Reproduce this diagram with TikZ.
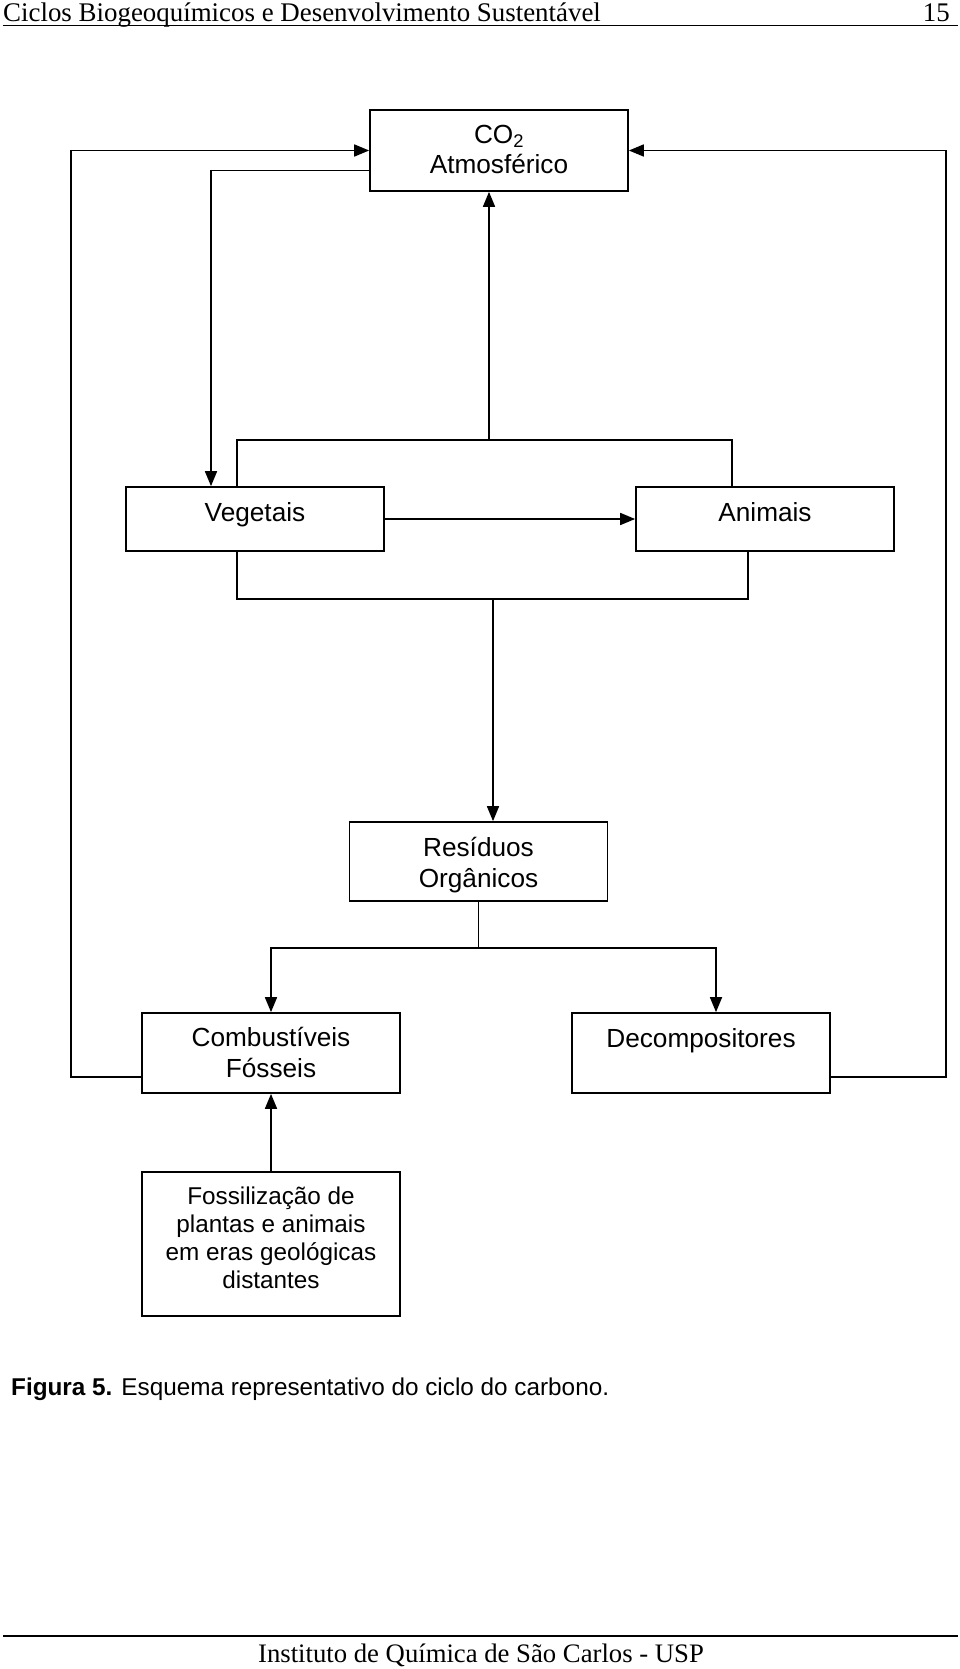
\documentclass[tikz,border=0pt]{standalone}
\usepackage{fontspec}
\setmainfont{Liberation Serif}
\newfontfamily\arialf{Liberation Sans}
\usetikzlibrary{arrows.meta,calc}
\begin{document}
\begin{tikzpicture}[x=1pt,y=-1pt,
  box/.style={draw, line width=1.7pt, minimum width=258pt, minimum height=#1, inner sep=0pt, anchor=center},
  box/.default=80pt,
  lbl/.style={font=\arialf\fontsize{26.2pt}{30.5pt}\selectfont, align=center, inner sep=0pt, anchor=base},
  lbls/.style={font=\arialf\fontsize{24.3pt}{27.7pt}\selectfont, align=center, inner sep=0pt, anchor=base},
  conn/.style={line width=1.7pt},
  arr/.style={line width=1.7pt, -{Triangle[length=15pt,width=12pt]}},
  rule/.style={line width=1.3pt}]
\useasboundingbox (0,0) rectangle (960,1669);
% header
\node[anchor=base west, inner sep=0pt, font=\fontsize{26.9pt}{30pt}\selectfont] (hdr) at (3,21.5) {Ciclos Biogeoquímicos e Desenvolvimento Sustentável};
\node[anchor=base east, inner sep=0pt, font=\fontsize{26.9pt}{30pt}\selectfont] (pg) at (950,21.5) {15};
\draw[rule] (3,25.5) -- (958,25.5);
% boxes
\node[box=81pt] (co2) at (499,150.5) {};
\node[box=64pt] (veg) at (255,519) {};
\node[box=64pt] (ani) at (765,519) {};
\node[box=79pt] (res) at (478.5,861.5) {};
\node[box=80pt] (comb) at (271,1053) {};
\node[box=80pt] (deco) at (701,1053) {};
\node[box=144pt] (fos) at (271,1244) {};
% labels (base = baseline of last line)
\node[lbl] (co2t) at (499,174) {CO\textsubscript{2}\\Atmosférico};
\node[lbl] (vegt) at (255,521) {Vegetais};
\node[lbl] (anit) at (765,521) {Animais};
\node[lbl] (rest) at (478.5,887) {Resíduos\\Orgânicos};
\node[lbl] (combt) at (271,1077) {Combustíveis\\Fósseis};
\node[lbl] (decot) at (701,1047) {Decompositores};
\node[lbls] (fost) at (271,1288) {Fossilização de\\plantas e animais\\em eras geológicas\\distantes};
% connectors
\draw[arr] ([yshift=-24pt]comb.west) -- (71,1077) |- (co2.west);
\draw[arr] ([yshift=-24pt]deco.east) -- (946,1077) |- (co2.east);
\draw[arr] ([yshift=-20pt]co2.west) -| ([xshift=-44pt]veg.north);
\coordinate (rj) at (489,440);
\draw[conn] ([xshift=-18pt]veg.north) |- (rj) -| ([xshift=-33pt]ani.north);
\draw[arr] (rj) -- (rj |- co2.south);
\draw[arr] (veg.east) -- (ani.west);
\coordinate (bj) at (493,599);
\draw[conn] ([xshift=-18pt]veg.south) |- (bj) -| ([xshift=-17pt]ani.south);
\draw[arr] (bj) -- (bj |- res.north);
\coordinate (rj2) at (478.5,948);
\draw[conn] (res.south) -- (rj2);
\draw[arr] (rj2) -| (comb.north);
\draw[arr] (rj2) -| ([xshift=15pt]deco.north);
\draw[arr] (fos.north) -- (comb.south);
% caption
\node[anchor=base west, inner sep=0pt, font=\arialf\fontsize{24.3pt}{28pt}\selectfont] (cap) at (11,1395) {\textbf{Figura 5.} Esquema representativo do ciclo do carbono.};
% footer
\draw[rule] (3,1636) -- (958,1636);
\node[anchor=base, inner sep=0pt, font=\fontsize{26.7pt}{30pt}\selectfont] (ftr) at (481,1662) {Instituto de Química de São Carlos - USP};
\end{tikzpicture}
\end{document}
